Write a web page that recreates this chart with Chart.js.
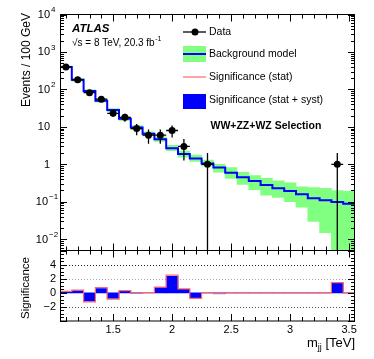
<!DOCTYPE html>
<html>
<head>
<meta charset="utf-8">
<script src="https://cdn.jsdelivr.net/npm/chart.js@4.4.1/dist/chart.umd.min.js"></script>
<style>
html, body { margin: 0; padding: 0; background: #fff; }
#wrap { position: relative; width: 374px; height: 359px; }
canvas { position: absolute; left: 0; top: 0; }
</style>
</head>
<body>
<div id="wrap">
  <canvas id="mainChart" width="374" height="359" style="width:374px;height:359px"></canvas>
  <canvas id="sigChart" width="374" height="359" style="width:374px;height:359px"></canvas>
</div>
<script>
/* values, one entry per 100 GeV bin */
const massBins = [1.1, 1.2, 1.3, 1.4, 1.5, 1.6, 1.7, 1.8, 1.9, 2.0, 2.1, 2.2, 2.3, 2.4, 2.5, 2.6, 2.7, 2.8, 2.9, 3.0, 3.1, 3.2, 3.3, 3.4, 3.5];
const dataEvents = [395, 180, 82, 55, 23, 18, 9, 6, 6, 8, 3, 0, 1, 0, 0, 0, 0, 0, 0, 0, 0, 0, 0, 1, 0];
const bkgModel = [395, 180, 90, 50, 28, 16.5, 9.6, 6.5, 4.7, 2.7, 1.9, 1.44, 1.05, 0.82, 0.6, 0.45, 0.36, 0.28, 0.23, 0.195, 0.16, 0.125, 0.11, 0.098, 0.088];
const bkgUp = [420, 195, 97, 55, 31, 18.3, 10.8, 7.4, 5.4, 3.2, 2.25, 1.76, 1.3, 1.0, 0.82, 0.61, 0.5, 0.42, 0.36, 0.32, 0.25, 0.24, 0.23, 0.2, 0.19];
const bkgDown = [372, 166, 83, 45.5, 25.5, 14.8, 8.5, 5.7, 4.1, 2.3, 1.55, 1.2, 0.9, 0.62, 0.42, 0.29, 0.21, 0.15, 0.13, 0.10, 0.072, 0.03, 0.015, 0.003, 0.003];
const sigSyst = [0.15, 0.33, -1.2, 0.6, -0.8, 0.2, -0.05, 0.02, 0.75, 2.35, 0.5, -0.7, 0, -0.1, 0, 0, 0, 0, 0, 0, 0, 0, 0, 1.4, 0];
const sigStat = [0.2, 0.38, -1.3, 0.75, -0.9, 0.3, -0.1, 0.03, 0.8, 2.5, 0.55, -0.8, 0, -0.12, 0, 0, 0, 0, 0, 0, 0, 0, 0, 1.45, 0];

const logTicks = [1e-2, 1e-1, 1, 10, 100, 1e3, 1e4];
const sigTicks = [-2, 0, 2, 4];
const massTicks = [1.5, 2, 2.5, 3, 3.5];

const HALF = 0.05;
const X_MIN = 1.05, X_MAX = 3.55;
const FONT = '"Liberation Sans", Arial, Helvetica, sans-serif';
const GREEN = '#80ff80';
const BLUE = '#0000ff';
const RED = '#ff6868';

Chart.defaults.font.family = FONT;
Chart.defaults.color = '#000';

// histogram outline: value of each bin from its left edge, closed at the right edge
function stepLine(vals, start, end) {
  const pts = [];
  if (start !== undefined) pts.push({ x: X_MIN, y: start });
  massBins.forEach((m, i) => pts.push({ x: +(m - HALF).toFixed(2), y: vals[i] }));
  pts.push({ x: X_MAX, y: vals[vals.length - 1] });
  if (end !== undefined) pts.push({ x: X_MAX, y: end });
  return pts;
}

function seg(ctx, x0, y0, x1, y1) {
  ctx.beginPath(); ctx.moveTo(x0, y0); ctx.lineTo(x1, y1); ctx.stroke();
}

function drawXTicks(ctx, xs, a) {
  ctx.strokeStyle = '#000'; ctx.lineWidth = 1;
  for (let i = 11; i <= 35; i++) {
    const px = Math.round(xs.getPixelForValue(i / 10)) + 0.5;
    const len = i % 5 === 0 ? 7 : 4;
    seg(ctx, px, a.top, px, a.top + len);
    seg(ctx, px, a.bottom, px, a.bottom - len);
  }
}

function drawFrame(ctx, a) {
  ctx.strokeStyle = '#000'; ctx.lineWidth = 1;
  ctx.strokeRect(a.left + 0.5, a.top, a.right - a.left - 1, a.bottom - a.top);
}

const mainPlugin = {
  id: 'mainDecor',
  afterDatasetsDraw(chart) {
    const ctx = chart.ctx, xs = chart.scales.x, ys = chart.scales.y, a = chart.chartArea;
    ctx.save();
    ctx.beginPath(); ctx.rect(a.left, a.top, a.right - a.left, a.bottom - a.top); ctx.clip();
    ctx.strokeStyle = '#000'; ctx.lineWidth = 1.3;
    massBins.forEach((m, i) => {
      const n = dataEvents[i];
      if (!(n > 0)) return;
      const px = xs.getPixelForValue(m), py = ys.getPixelForValue(n);
      const e = Math.sqrt(n);
      const top = ys.getPixelForValue(n + e);
      const bot = n - e > 0 ? ys.getPixelForValue(n - e) : a.bottom;
      seg(ctx, px, top, px, bot);
      seg(ctx, xs.getPixelForValue(m - HALF), py, xs.getPixelForValue(m + HALF), py);
    });
    ctx.restore();
  },
  afterDraw(chart) {
    const ctx = chart.ctx, xs = chart.scales.x, ys = chart.scales.y, a = chart.chartArea;
    ctx.save();
    drawFrame(ctx, a);
    drawXTicks(ctx, xs, a);
    // log ticks, both sides
    for (let e = -3; e <= 4; e++) {
      for (let m = 1; m <= 9; m++) {
        const v = m * Math.pow(10, e);
        if (v < ys.min * 0.999 || v > ys.max * 1.001) continue;
        const py = Math.round(ys.getPixelForValue(v)) + 0.5;
        const len = m === 1 ? 7 : 4;
        seg(ctx, a.left, py, a.left + len, py);
        seg(ctx, a.right, py, a.right - len, py);
      }
    }
    // tick labels
    ctx.fillStyle = '#000';
    ctx.textBaseline = 'middle';
    logTicks.forEach(v => {
      const e = Math.round(Math.log10(v));
      const py = ys.getPixelForValue(v) + 0.5;
      ctx.font = '11px ' + FONT;
      ctx.textAlign = 'right';
      if (e === 0 || e === 1) {
        ctx.fillText(e === 0 ? '1' : '10', 50, py);
      } else {
        const bx = e < 0 ? 48 : 50;
        ctx.fillText('10', bx, py);
        ctx.font = '8px ' + FONT;
        ctx.textAlign = 'left';
        ctx.fillText(e < 0 ? '\u2212' + (-e) : String(e), bx + 1, py - 5);
      }
    });
    // axis title
    ctx.save();
    ctx.translate(27, 13);
    ctx.rotate(-Math.PI / 2);
    ctx.font = '12px ' + FONT;
    ctx.textAlign = 'right';
    ctx.fillText('Events / 100 GeV', 0, 0);
    ctx.restore();
    // labels
    ctx.textAlign = 'left';
    ctx.font = 'italic bold 11.5px ' + FONT;
    ctx.fillText('ATLAS', 72, 29);
    ctx.font = '10px ' + FONT;
    const lumi = '\u221As = 8 TeV, 20.3 fb';
    ctx.fillText(lumi, 72, 43);
    const lw = ctx.measureText(lumi).width;
    ctx.font = '7px ' + FONT;
    ctx.fillText('-1', 72 + lw + 0.5, 39);
    // legend
    const lx0 = 183, lx1 = 206, tx = 209;
    ctx.strokeStyle = '#000'; ctx.lineWidth = 1.3;
    seg(ctx, lx0, 32, lx1, 32);
    ctx.fillStyle = '#000';
    ctx.beginPath(); ctx.arc(195, 32, 3.5, 0, Math.PI * 2); ctx.fill();
    ctx.fillStyle = GREEN;
    ctx.fillRect(lx0, 46, lx1 - lx0, 16);
    ctx.strokeStyle = BLUE; ctx.lineWidth = 2;
    seg(ctx, lx0, 54, lx1, 54);
    ctx.strokeStyle = RED; ctx.lineWidth = 1.2;
    seg(ctx, lx0, 77, lx1, 77);
    ctx.fillStyle = BLUE;
    ctx.fillRect(lx0, 94, lx1 - lx0, 15);
    ctx.fillStyle = '#000';
    ctx.font = '10.5px ' + FONT;
    ctx.fillText('Data', tx, 32.5);
    ctx.fillText('Background model', tx, 54.5);
    ctx.fillText('Significance (stat)', tx, 77.5);
    ctx.fillText('Significance (stat + syst)', tx, 100.5);
    ctx.font = 'bold 10.5px ' + FONT;
    ctx.fillText('WW+ZZ+WZ Selection', 210.5, 126.5);
    ctx.restore();
  }
};

new Chart(document.getElementById('mainChart'), {
  type: 'bar',
  data: {
    datasets: [
      {
        type: 'line', label: 'Data',
        data: massBins.map((m, i) => ({ x: m, y: dataEvents[i] })).filter(p => p.y > 0),
        showLine: false, pointRadius: 3.5, pointBackgroundColor: '#000', pointBorderWidth: 0,
        order: 0, clip: 0
      },
      {
        type: 'line', label: 'Background model',
        data: stepLine(bkgModel, undefined, 1e-4),
        stepped: true, borderColor: BLUE, borderWidth: 2, pointRadius: 0, fill: false,
        order: 1, clip: 0
      },
      {
        type: 'bar', label: 'Uncertainty',
        data: massBins.map((m, i) => ({ x: m, y: [bkgDown[i], bkgUp[i]] })),
        backgroundColor: GREEN, borderWidth: 0, barPercentage: 1, categoryPercentage: 1,
        order: 2, clip: 0
      }
    ]
  },
  options: {
    responsive: false, animation: false, events: [],
    layout: { padding: { left: 0, right: 19, top: 14.5, bottom: 108.5 } },
    plugins: { legend: { display: false }, tooltip: { enabled: false } },
    scales: {
      x: { type: 'linear', min: X_MIN, max: X_MAX, offset: false, display: false },
      y: {
        type: 'logarithmic', min: 0.005, max: 1e4,
        grid: { display: false, drawTicks: false }, border: { display: false },
        ticks: { display: false },
        afterFit: s => { s.width = 60; }
      }
    }
  },
  plugins: [mainPlugin]
});

const sigPlugin = {
  id: 'sigDecor',
  beforeDatasetsDraw(chart) {
    const ctx = chart.ctx, ys = chart.scales.y, a = chart.chartArea;
    ctx.save();
    ctx.lineWidth = 1;
    ctx.setLineDash([1, 2]);
    [[4, '#222'], [2, '#aaa'], [-2, '#555']].forEach(([v, c]) => {
      const py = Math.round(ys.getPixelForValue(v)) + 0.5;
      ctx.strokeStyle = c;
      seg(ctx, a.left, py, a.right, py);
    });
    ctx.restore();
  },
  afterDraw(chart) {
    const ctx = chart.ctx, xs = chart.scales.x, ys = chart.scales.y, a = chart.chartArea;
    ctx.save();
    drawFrame(ctx, a);
    drawXTicks(ctx, xs, a);
    for (let v = -4; v <= 6; v += 0.5) {
      const py = Math.round(ys.getPixelForValue(v)) + 0.5;
      const len = v % 2 === 0 ? 7 : 4;
      seg(ctx, a.left, py, a.left + len, py);
      seg(ctx, a.right, py, a.right - len, py);
    }
    ctx.fillStyle = '#000';
    ctx.save();
    ctx.translate(26, 257);
    ctx.rotate(-Math.PI / 2);
    ctx.font = '11.5px ' + FONT;
    ctx.textAlign = 'right';
    ctx.textBaseline = 'middle';
    ctx.fillText('Significance', 0, 0);
    ctx.restore();
    // x title, right aligned at the frame edge
    ctx.textBaseline = 'middle';
    ctx.textAlign = 'left';
    ctx.font = '13px ' + FONT;
    const wm = ctx.measureText('m').width;
    const wt = ctx.measureText(' [TeV]').width;
    ctx.font = '9px ' + FONT;
    const wj = ctx.measureText('jj').width;
    let x0 = a.right - (wm + wj + wt);
    ctx.font = '13px ' + FONT;
    ctx.fillText('m', x0, 343);
    ctx.font = '9px ' + FONT;
    ctx.fillText('jj', x0 + wm, 347.5);
    ctx.font = '13px ' + FONT;
    ctx.fillText(' [TeV]', x0 + wm + wj, 343);
    ctx.restore();
  }
};

new Chart(document.getElementById('sigChart'), {
  type: 'bar',
  data: {
    datasets: [
      {
        type: 'line', label: 'Significance (stat)',
        data: stepLine(sigStat, 0),
        stepped: true, borderColor: RED, borderWidth: 1.2, pointRadius: 0, fill: false,
        order: 0, clip: 0
      },
      {
        type: 'bar', label: 'Significance (stat + syst)',
        data: massBins.map((m, i) => ({ x: m, y: sigSyst[i] })),
        backgroundColor: BLUE, borderWidth: 0, barPercentage: 1, categoryPercentage: 1,
        order: 1, clip: 0
      }
    ]
  },
  options: {
    responsive: false, animation: false, events: [],
    layout: { padding: { left: 0, right: 19, top: 250.5, bottom: 0 } },
    plugins: { legend: { display: false }, tooltip: { enabled: false } },
    scales: {
      x: {
        type: 'linear', min: X_MIN, max: X_MAX, offset: false,
        grid: { display: false, drawTicks: false }, border: { display: false },
        afterBuildTicks: s => { s.ticks = massTicks.map(v => ({ value: v })); },
        ticks: { color: '#000', font: { size: 11 }, padding: 2, maxRotation: 0, autoSkip: false, callback: v => String(v) },
        afterFit: s => { s.height = 38; }
      },
      y: {
        type: 'linear', min: -4, max: 6,
        grid: { display: false, drawTicks: false }, border: { display: false },
        afterBuildTicks: s => { s.ticks = sigTicks.map(v => ({ value: v })); },
        ticks: { color: '#000', font: { size: 11 }, padding: 4, autoSkip: false, callback: v => v < 0 ? '\u2212' + (-v) : String(v) },
        afterFit: s => { s.width = 60; }
      }
    }
  },
  plugins: [sigPlugin]
});
</script>
</body>
</html>
